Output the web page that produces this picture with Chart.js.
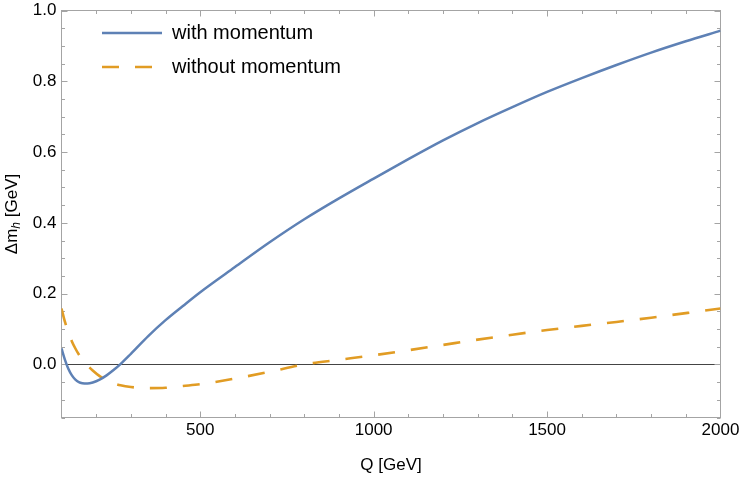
<!DOCTYPE html>
<html>
<head>
<meta charset="utf-8">
<style>
  html, body { margin: 0; padding: 0; background: #fff; }
  #wrap { width: 741px; height: 480px; }
</style>
<script src="https://cdn.jsdelivr.net/npm/chart.js@4/dist/chart.umd.min.js"></script>
</head>
<body>
<div id="wrap"><canvas id="chart"></canvas></div>
<script>
const Q = [100, 110, 120, 130, 140, 150, 160, 175, 190, 210, 230, 250, 270, 300, 350, 400, 450, 500,
           600, 700, 800, 900, 1000, 1100, 1200, 1300, 1400, 1500, 1600, 1700, 1800, 1900, 2000];
const WITH_MOMENTUM = [0.045, 0.013, -0.013, -0.031, -0.043, -0.05, -0.053, -0.054, -0.051, -0.043, -0.031, -0.016,
                       0.001, 0.03, 0.08, 0.125, 0.165, 0.204, 0.275, 0.345, 0.41, 0.469, 0.525, 0.58, 0.633,
                       0.682, 0.727, 0.77, 0.809, 0.846, 0.881, 0.913, 0.943];
const WITHOUT_MOMENTUM = [0.158, 0.12, 0.09, 0.065, 0.045, 0.028, 0.014, -0.003, -0.017, -0.033, -0.045, -0.053,
                          -0.059, -0.064, -0.067, -0.066, -0.061, -0.056, -0.04, -0.021, 0.0, 0.013, 0.026, 0.04,
                          0.055, 0.07, 0.084, 0.097, 0.109, 0.12, 0.132, 0.145, 0.158];
const X_TICKS = [500, 1000, 1500, 2000];
const Y_TICKS = [0, 0.2, 0.4, 0.6, 0.8, 1.0];
const X_MINOR_STEP = 100;
const Y_MINOR_STEP = 0.05;

const FONT = '"Liberation Sans", Arial, sans-serif';
const FRAME = '#a4a4a4';

const framePlugin = {
  id: 'frame',
  beforeDatasetsDraw(chart) {
    const { ctx, chartArea: a, scales: { x, y } } = chart;
    ctx.save();
    // zero line
    const y0 = Math.round(y.getPixelForValue(0)) + 0.5;
    ctx.strokeStyle = '#444';
    ctx.lineWidth = 1;
    ctx.beginPath();
    ctx.moveTo(a.left, y0);
    ctx.lineTo(a.right, y0);
    ctx.stroke();

    // frame + inward ticks
    ctx.strokeStyle = FRAME;
    ctx.strokeRect(a.left, a.top, a.right - a.left, a.bottom - a.top);
    ctx.beginPath();
    for (let v = x.min + X_MINOR_STEP; v < x.max; v += X_MINOR_STEP) {
      const px = Math.round(x.getPixelForValue(v)) + 0.5;
      const len = Math.round(v) % 500 === 0 ? 6 : 3.5;
      ctx.moveTo(px, a.bottom); ctx.lineTo(px, a.bottom - len);
      ctx.moveTo(px, a.top); ctx.lineTo(px, a.top + len);
    }
    for (let k = Math.ceil(y.min / Y_MINOR_STEP - 1e-9); k * Y_MINOR_STEP <= y.max + 1e-9; k++) {
      const py = Math.round(y.getPixelForValue(k * Y_MINOR_STEP)) + 0.5;
      const len = k % 4 === 0 ? 6 : 3.5;
      ctx.moveTo(a.left, py); ctx.lineTo(a.left + len, py);
      ctx.moveTo(a.right, py); ctx.lineTo(a.right - len, py);
    }
    ctx.stroke();
    ctx.restore();
  },
  afterDraw(chart) {
    const { ctx, chartArea: a } = chart;
    ctx.save();
    // legend inside the plot
    chart.data.datasets.forEach((ds, i) => {
      const ly = 33 + i * 34;
      ctx.strokeStyle = ds.borderColor;
      ctx.lineWidth = ds.borderWidth;
      ctx.setLineDash(ds.borderDash || []);
      ctx.beginPath();
      ctx.moveTo(102, ly);
      ctx.lineTo(162, ly);
      ctx.stroke();
      ctx.setLineDash([]);
      ctx.fillStyle = '#000';
      ctx.font = `20px ${FONT}`;
      ctx.textBaseline = 'middle';
      ctx.fillText(ds.label, 172, ly);
    });

    // y-axis title with subscript
    const cy = (a.top + a.bottom) / 2;
    ctx.translate(17, cy);
    ctx.rotate(-Math.PI / 2);
    ctx.textBaseline = 'alphabetic';
    const big = `17px ${FONT}`;
    const small = `italic 12px ${FONT}`;
    ctx.font = big;
    const w1 = ctx.measureText('\u0394m').width;
    const w3 = ctx.measureText(' [GeV]').width;
    ctx.font = small;
    const w2 = ctx.measureText('h').width;
    let tx = -(w1 + w2 + w3) / 2;
    ctx.font = big;
    ctx.fillText('\u0394m', tx, 0);
    tx += w1;
    ctx.font = small;
    ctx.fillText('h', tx, 3);
    tx += w2;
    ctx.font = big;
    ctx.fillText(' [GeV]', tx, 0);
    ctx.restore();
  },
};

new Chart(document.getElementById('chart'), {
  type: 'line',
  data: {
    datasets: [
      {
        label: 'with momentum',
        data: Q.map((q, i) => ({ x: q, y: WITH_MOMENTUM[i] })),
        borderColor: '#5e81b5',
        borderWidth: 2.5,
        pointRadius: 0,
        cubicInterpolationMode: 'monotone',
        fill: false,
      },
      {
        label: 'without momentum',
        data: Q.map((q, i) => ({ x: q, y: WITHOUT_MOMENTUM[i] })),
        borderColor: '#e19c24',
        borderWidth: 2.6,
        borderDash: [17, 16],
        pointRadius: 0,
        cubicInterpolationMode: 'monotone',
        fill: false,
      },
    ],
  },
  options: {
    responsive: true,
    maintainAspectRatio: false,
    animation: false,
    layout: { padding: { top: 10.5, right: 20.5, left: 0, bottom: 0 } },
    plugins: { legend: { display: false }, tooltip: { enabled: false } },
    scales: {
      x: {
        type: 'linear',
        min: 100,
        max: 2000,
        grid: { display: false, drawTicks: false },
        border: { display: false },
        afterBuildTicks: (s) => { s.ticks = X_TICKS.map(v => ({ value: v })); },
        afterFit: (s) => { s.height = 62.5; s.paddingLeft = 0; s.paddingRight = 0; },
        ticks: { color: '#000', font: { family: FONT, size: 17 }, padding: 3, maxRotation: 0, callback: v => String(v) },
        title: { display: true, text: 'Q [GeV]', color: '#000', font: { family: FONT, size: 17 }, padding: { top: 4, bottom: 4 } },
      },
      y: {
        type: 'linear',
        min: -0.15,
        max: 1.0,
        grid: { display: false, drawTicks: false },
        border: { display: false },
        afterBuildTicks: (s) => { s.ticks = Y_TICKS.map(v => ({ value: v })); },
        afterFit: (s) => { s.width = 61.5; s.paddingTop = 0; s.paddingBottom = 0; },
        ticks: { color: '#000', font: { family: FONT, size: 17 }, padding: 5, callback: v => v.toFixed(1) },
      },
    },
  },
  plugins: [framePlugin],
});
</script>
</body>
</html>
